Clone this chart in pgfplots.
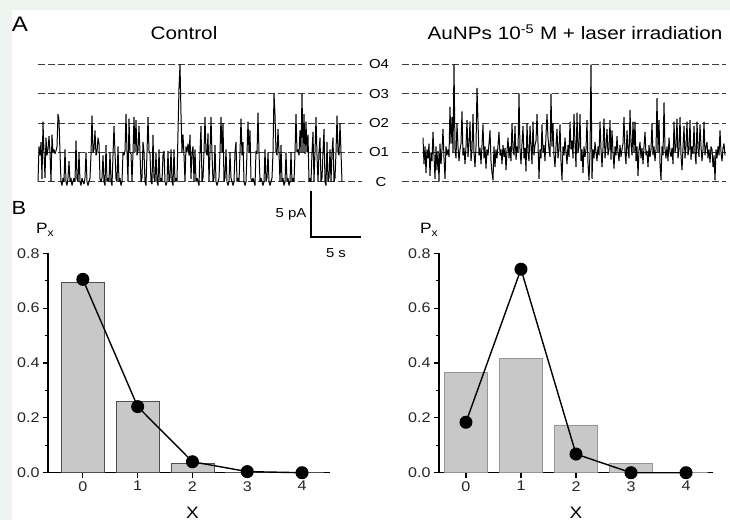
\documentclass[border=0pt]{standalone}
\usepackage{fontspec}
\setmainfont{Liberation Sans}[FakeStretch=1.15]
\usepackage{pgfplots}
\usepackage{pgfplotstable}
\pgfplotsset{compat=1.18}

\definecolor{bgmint}{RGB}{238,245,240}
\definecolor{barfill}{RGB}{200,200,200}
\definecolor{baredgeA}{RGB}{80,80,80}
\definecolor{baredgeB}{RGB}{150,150,150}
\definecolor{dashgray}{RGB}{60,60,60}

% single-channel current, in conductance levels (C=0 ... O4=4), one value per pixel
\pgfplotstableread[row sep=\\,header=false]{
0.0\\1.2\\0.9\\1.35\\0.1\\2.05\\1.0\\0.13\\1.5\\0.9\\
1.1\\1.55\\1.0\\0.0\\1.6\\1.0\\1.1\\0.95\\1.05\\1.2\\
2.3\\2.1\\1.0\\0.0\\-0.13\\0.13\\0.0\\1.1\\0.0\\-0.13\\
0.13\\0.7\\0.0\\0.13\\-0.13\\0.0\\0.13\\0.0\\1.4\\0.1\\
0.0\\1.0\\0.0\\-0.13\\0.13\\0.0\\-0.08\\0.13\\1.0\\0.0\\
-0.13\\0.0\\0.13\\0.9\\2.25\\1.0\\1.1\\1.75\\0.9\\1.0\\
1.5\\1.3\\0.1\\0.0\\0.13\\0.9\\0.0\\-0.13\\1.25\\0.0\\
0.13\\0.0\\1.0\\0.0\\-0.13\\0.9\\1.9\\1.0\\0.1\\0.0\\
1.2\\0.0\\0.13\\-0.13\\0.0\\1.0\\0.9\\1.05\\2.3\\1.0\\
0.0\\2.15\\1.0\\0.95\\0.0\\1.0\\2.2\\1.0\\2.1\\0.9\\
1.05\\1.9\\1.0\\0.0\\0.13\\1.35\\1.0\\0.0\\-0.13\\1.0\\
2.2\\1.05\\0.95\\0.0\\-0.08\\1.6\\0.13\\0.0\\1.0\\0.0\\
-0.13\\1.1\\0.0\\0.13\\0.0\\0.9\\1.05\\0.0\\-0.13\\0.0\\
1.05\\0.0\\0.13\\1.1\\0.0\\-0.13\\1.1\\0.0\\0.13\\0.0\\
1.7\\3.2\\4.0\\2.3\\1.0\\1.6\\0.9\\0.0\\1.2\\1.0\\
1.3\\0.9\\1.6\\0.1\\1.0\\1.2\\0.0\\1.1\\0.0\\0.13\\
0.0\\-0.13\\1.0\\1.9\\0.0\\0.13\\1.0\\2.2\\1.0\\0.9\\
1.65\\0.0\\1.0\\2.2\\0.95\\0.0\\0.13\\1.25\\0.0\\-0.13\\
0.0\\0.13\\1.0\\2.2\\1.0\\2.0\\0.0\\0.13\\1.1\\0.0\\
-0.13\\0.0\\1.0\\0.13\\0.0\\-0.13\\0.0\\1.0\\1.35\\0.0\\
0.13\\0.0\\1.0\\2.15\\0.9\\1.35\\0.0\\-0.13\\0.0\\1.0\\
2.05\\1.0\\1.75\\0.1\\0.0\\0.13\\0.0\\-0.13\\1.05\\0.95\\
2.35\\1.0\\0.0\\0.13\\0.0\\-0.13\\0.0\\1.1\\0.0\\0.13\\
1.0\\0.0\\-0.13\\0.0\\0.13\\1.0\\3.0\\2.3\\1.0\\0.9\\
1.8\\1.0\\0.0\\1.25\\0.0\\0.13\\-0.13\\0.0\\1.0\\0.0\\
0.13\\-0.13\\0.0\\1.0\\0.0\\0.13\\0.0\\1.0\\2.3\\1.0\\
1.1\\0.9\\1.75\\1.0\\3.0\\1.0\\2.3\\0.95\\2.05\\1.0\\
1.6\\0.0\\0.13\\0.0\\1.0\\1.7\\0.0\\1.0\\2.2\\0.9\\
0.0\\1.0\\1.5\\0.0\\0.13\\1.0\\1.8\\0.0\\-0.13\\1.35\\
0.0\\0.13\\1.1\\0.0\\1.0\\1.5\\0.0\\0.13\\1.0\\2.25\\
1.0\\0.9\\2.0\\1.0\\0.0\\
}\controltrace

% starts 21 px into the panel
\pgfplotstableread[row sep=\\,header=false]{
1.5\\0.6\\1.2\\0.3\\1.1\\0.8\\1.3\\0.2\\1.0\\0.7\\
1.7\\0.9\\0.1\\1.2\\0.4\\1.05\\0.0\\1.3\\0.6\\1.1\\
1.8\\0.8\\0.1\\1.2\\0.9\\1.1\\0.85\\2.55\\1.3\\2.2\\
1.0\\4.0\\1.1\\0.8\\2.0\\1.2\\0.7\\1.1\\1.3\\2.4\\
0.9\\1.15\\0.6\\1.2\\2.1\\0.85\\1.3\\2.05\\0.7\\1.1\\
2.3\\1.0\\0.5\\1.2\\3.2\\2.05\\0.9\\1.15\\0.6\\1.25\\
1.95\\0.8\\1.2\\0.45\\1.1\\0.9\\1.3\\1.75\\0.7\\0.3\\
0.05\\1.2\\0.5\\1.1\\0.8\\1.25\\1.7\\0.9\\1.1\\0.6\\
1.25\\0.85\\1.15\\0.4\\1.05\\1.5\\0.8\\1.2\\0.7\\2.0\\
1.1\\0.9\\1.9\\0.75\\1.2\\1.0\\3.0\\1.1\\0.6\\1.3\\
1.9\\0.8\\1.15\\0.35\\2.0\\1.0\\0.7\\1.9\\1.2\\0.6\\
2.05\\0.9\\1.25\\1.4\\2.3\\1.3\\0.1\\1.1\\0.8\\1.95\\
1.0\\1.25\\0.7\\1.6\\2.3\\1.5\\1.1\\0.85\\3.0\\1.2\\
2.0\\0.9\\0.5\\1.2\\1.8\\0.8\\1.1\\1.95\\0.7\\0.05\\
1.2\\0.9\\1.5\\1.0\\0.6\\1.25\\0.85\\2.05\\1.1\\1.4\\
0.8\\2.3\\1.3\\0.5\\2.35\\1.0\\1.2\\2.3\\0.7\\1.1\\
0.3\\1.2\\0.85\\1.1\\2.1\\0.6\\0.05\\1.0\\4.0\\0.1\\
1.1\\0.8\\1.35\\1.0\\0.7\\1.2\\0.9\\2.05\\1.1\\0.5\\
1.15\\2.15\\0.8\\1.2\\1.8\\0.9\\1.1\\2.1\\0.75\\1.75\\
1.0\\0.45\\1.2\\0.9\\1.55\\1.0\\0.7\\1.25\\0.85\\1.1\\
1.3\\2.2\\1.0\\0.6\\1.75\\1.1\\0.8\\2.45\\1.3\\0.9\\
2.05\\1.0\\2.05\\0.7\\1.2\\0.2\\1.1\\1.35\\0.8\\1.15\\
0.6\\1.2\\1.7\\0.9\\1.05\\0.5\\1.25\\0.85\\1.1\\2.0\\
0.9\\1.2\\0.7\\1.1\\2.85\\1.0\\2.1\\0.6\\0.05\\1.2\\
0.9\\2.7\\1.1\\0.8\\1.2\\0.7\\1.5\\1.0\\0.85\\1.15\\
0.6\\2.05\\1.0\\1.2\\2.15\\0.8\\1.1\\2.2\\0.9\\0.4\\
1.15\\1.9\\0.8\\1.2\\2.05\\0.9\\1.1\\2.1\\0.75\\1.2\\
0.95\\1.9\\1.0\\0.6\\2.05\\1.1\\0.85\\1.95\\1.2\\0.7\\
1.1\\2.05\\0.9\\1.2\\1.35\\0.8\\1.1\\0.65\\1.2\\1.1\\
0.5\\0.9\\0.05\\1.1\\0.8\\1.2\\0.9\\1.75\\1.0\\0.7\\
1.15\\1.3\\0.9\\
}\goldtrace

\pgfplotsset{
  trace/.style={at={#1}, anchor=south west, scale only axis,
    width=324pt, height=146.75pt, xmin=0, xmax=324, ymin=-0.5, ymax=4.5,
    axis lines=none, clip=false},
  level/.style={dashgray, line width=0.9pt, dash pattern=on 6.5pt off 3.5pt},
  current/.style={black, line width=1.0pt, line join=bevel},
  poisson/.style={at={#1}, anchor=south west, scale only axis,
    height=219.4pt, ymin=0, ymax=0.8,
    axis lines*=left, axis line style={line width=1.3pt},
    xtick={0,1,2,3,4}, ytick={0,0.2,0.4,0.6,0.8},
    minor y tick num=1, tick align=outside,
    major tick length=5pt, minor tick length=3pt,
    tick style={line width=1.1pt, black},
    /pgf/number format/assume math mode=true,
    yticklabel style={/pgf/number format/.cd, fixed, fixed zerofill, precision=1},
    tick label style={font=\fontsize{14}{16}\selectfont, text=black!85},
    clip=false},
  bars/.style={ybar, bar width=43pt, fill=barfill, draw=#1, line width=0.9pt},
  fit/.style={black, line width=1.4pt, mark=*, mark size=5.8pt},
}

\begin{document}
\begin{tikzpicture}
\fill[bgmint] (0pt,0pt) rectangle (730pt,-520pt);
\fill[white] (12pt,-10pt) rectangle (730pt,-520pt);

\node[font=\fontsize{21}{23}\selectfont] at (20pt,-24pt) {A};
\node[font=\fontsize{19}{21}\selectfont] at (19pt,-208pt) {B};
\node[font=\fontsize{18}{20}\selectfont] at (184pt,-33pt) {Control};
\node[font=\fontsize{18}{20}\selectfont] at (575pt,-32pt) {AuNPs 10\textsuperscript{-5} M + laser irradiation};

% Control trace
\begin{axis}[trace={(38pt,-196.4pt)}]
  \addplot[level] coordinates {(0,0)(324,0)};
  \addplot[level] coordinates {(0,1)(324,1)};
  \addplot[level] coordinates {(0,2)(324,2)};
  \addplot[level] coordinates {(0,3)(324,3)};
  \addplot[level] coordinates {(0,4)(324,4)};
  \addplot[current] table[x expr=\coordindex, y index=0] {\controltrace};
\end{axis}

% AuNPs trace
\begin{axis}[trace={(402pt,-196.4pt)}]
  \addplot[level] coordinates {(0,0)(324,0)};
  \addplot[level] coordinates {(0,1)(324,1)};
  \addplot[level] coordinates {(0,2)(324,2)};
  \addplot[level] coordinates {(0,3)(324,3)};
  \addplot[level] coordinates {(0,4)(324,4)};
  \addplot[current] table[x expr=\coordindex+21, y index=0] {\goldtrace};
  \node[font=\fontsize{13}{15}\selectfont] at (axis cs:-21,0) {C};
  \node[font=\fontsize{13}{15}\selectfont] at (axis cs:-23,1) {O1};
  \node[font=\fontsize{13}{15}\selectfont] at (axis cs:-23,2) {O2};
  \node[font=\fontsize{13}{15}\selectfont] at (axis cs:-23,3) {O3};
  \node[font=\fontsize{13}{15}\selectfont] at (axis cs:-23,4) {O4};
\end{axis}

% scale bar
\draw[line width=1.2pt] (311pt,-191pt) -- (311pt,-237pt) -- (361pt,-237pt);
\node[font=\fontsize{13}{15}\selectfont] at (291pt,-214pt) {5 pA};
\node[font=\fontsize{13}{15}\selectfont] at (336pt,-253pt) {5 s};

% Poisson fits, control
\begin{axis}[poisson={(48pt,-472.7pt)}, width=282pt, xmin=-0.636, xmax=4.51]
  \addplot[bars=baredgeA] coordinates {(0,0.694)(1,0.261)(2,0.034)(3,0.002)(4,0)};
  \addplot[fit] coordinates {(0,0.705)(1,0.241)(2,0.040)(3,0.004)(4,0)};
  \node[font=\fontsize{16.5}{18}\selectfont] at (axis cs:2,0) [yshift=-40pt] {X};
  \node[font=\fontsize{15}{17}\selectfont] at (axis description cs:-0.01,1.107) {P\textsubscript{x}};
\end{axis}

% Poisson fits, AuNPs
\begin{axis}[poisson={(439pt,-472.7pt)}, width=274pt, xmin=-0.49, xmax=4.49]
  \addplot[bars=baredgeB] coordinates {(0,0.365)(1,0.415)(2,0.174)(3,0.033)(4,0)};
  \addplot[fit] coordinates {(0,0.184)(1,0.742)(2,0.068)(3,0)(4,0)};
  \node[font=\fontsize{16.5}{18}\selectfont] at (axis cs:2,0) [yshift=-40pt] {X};
  \node[font=\fontsize{15}{17}\selectfont] at (axis description cs:-0.036,1.107) {P\textsubscript{x}};
\end{axis}
\end{tikzpicture}
\end{document}
